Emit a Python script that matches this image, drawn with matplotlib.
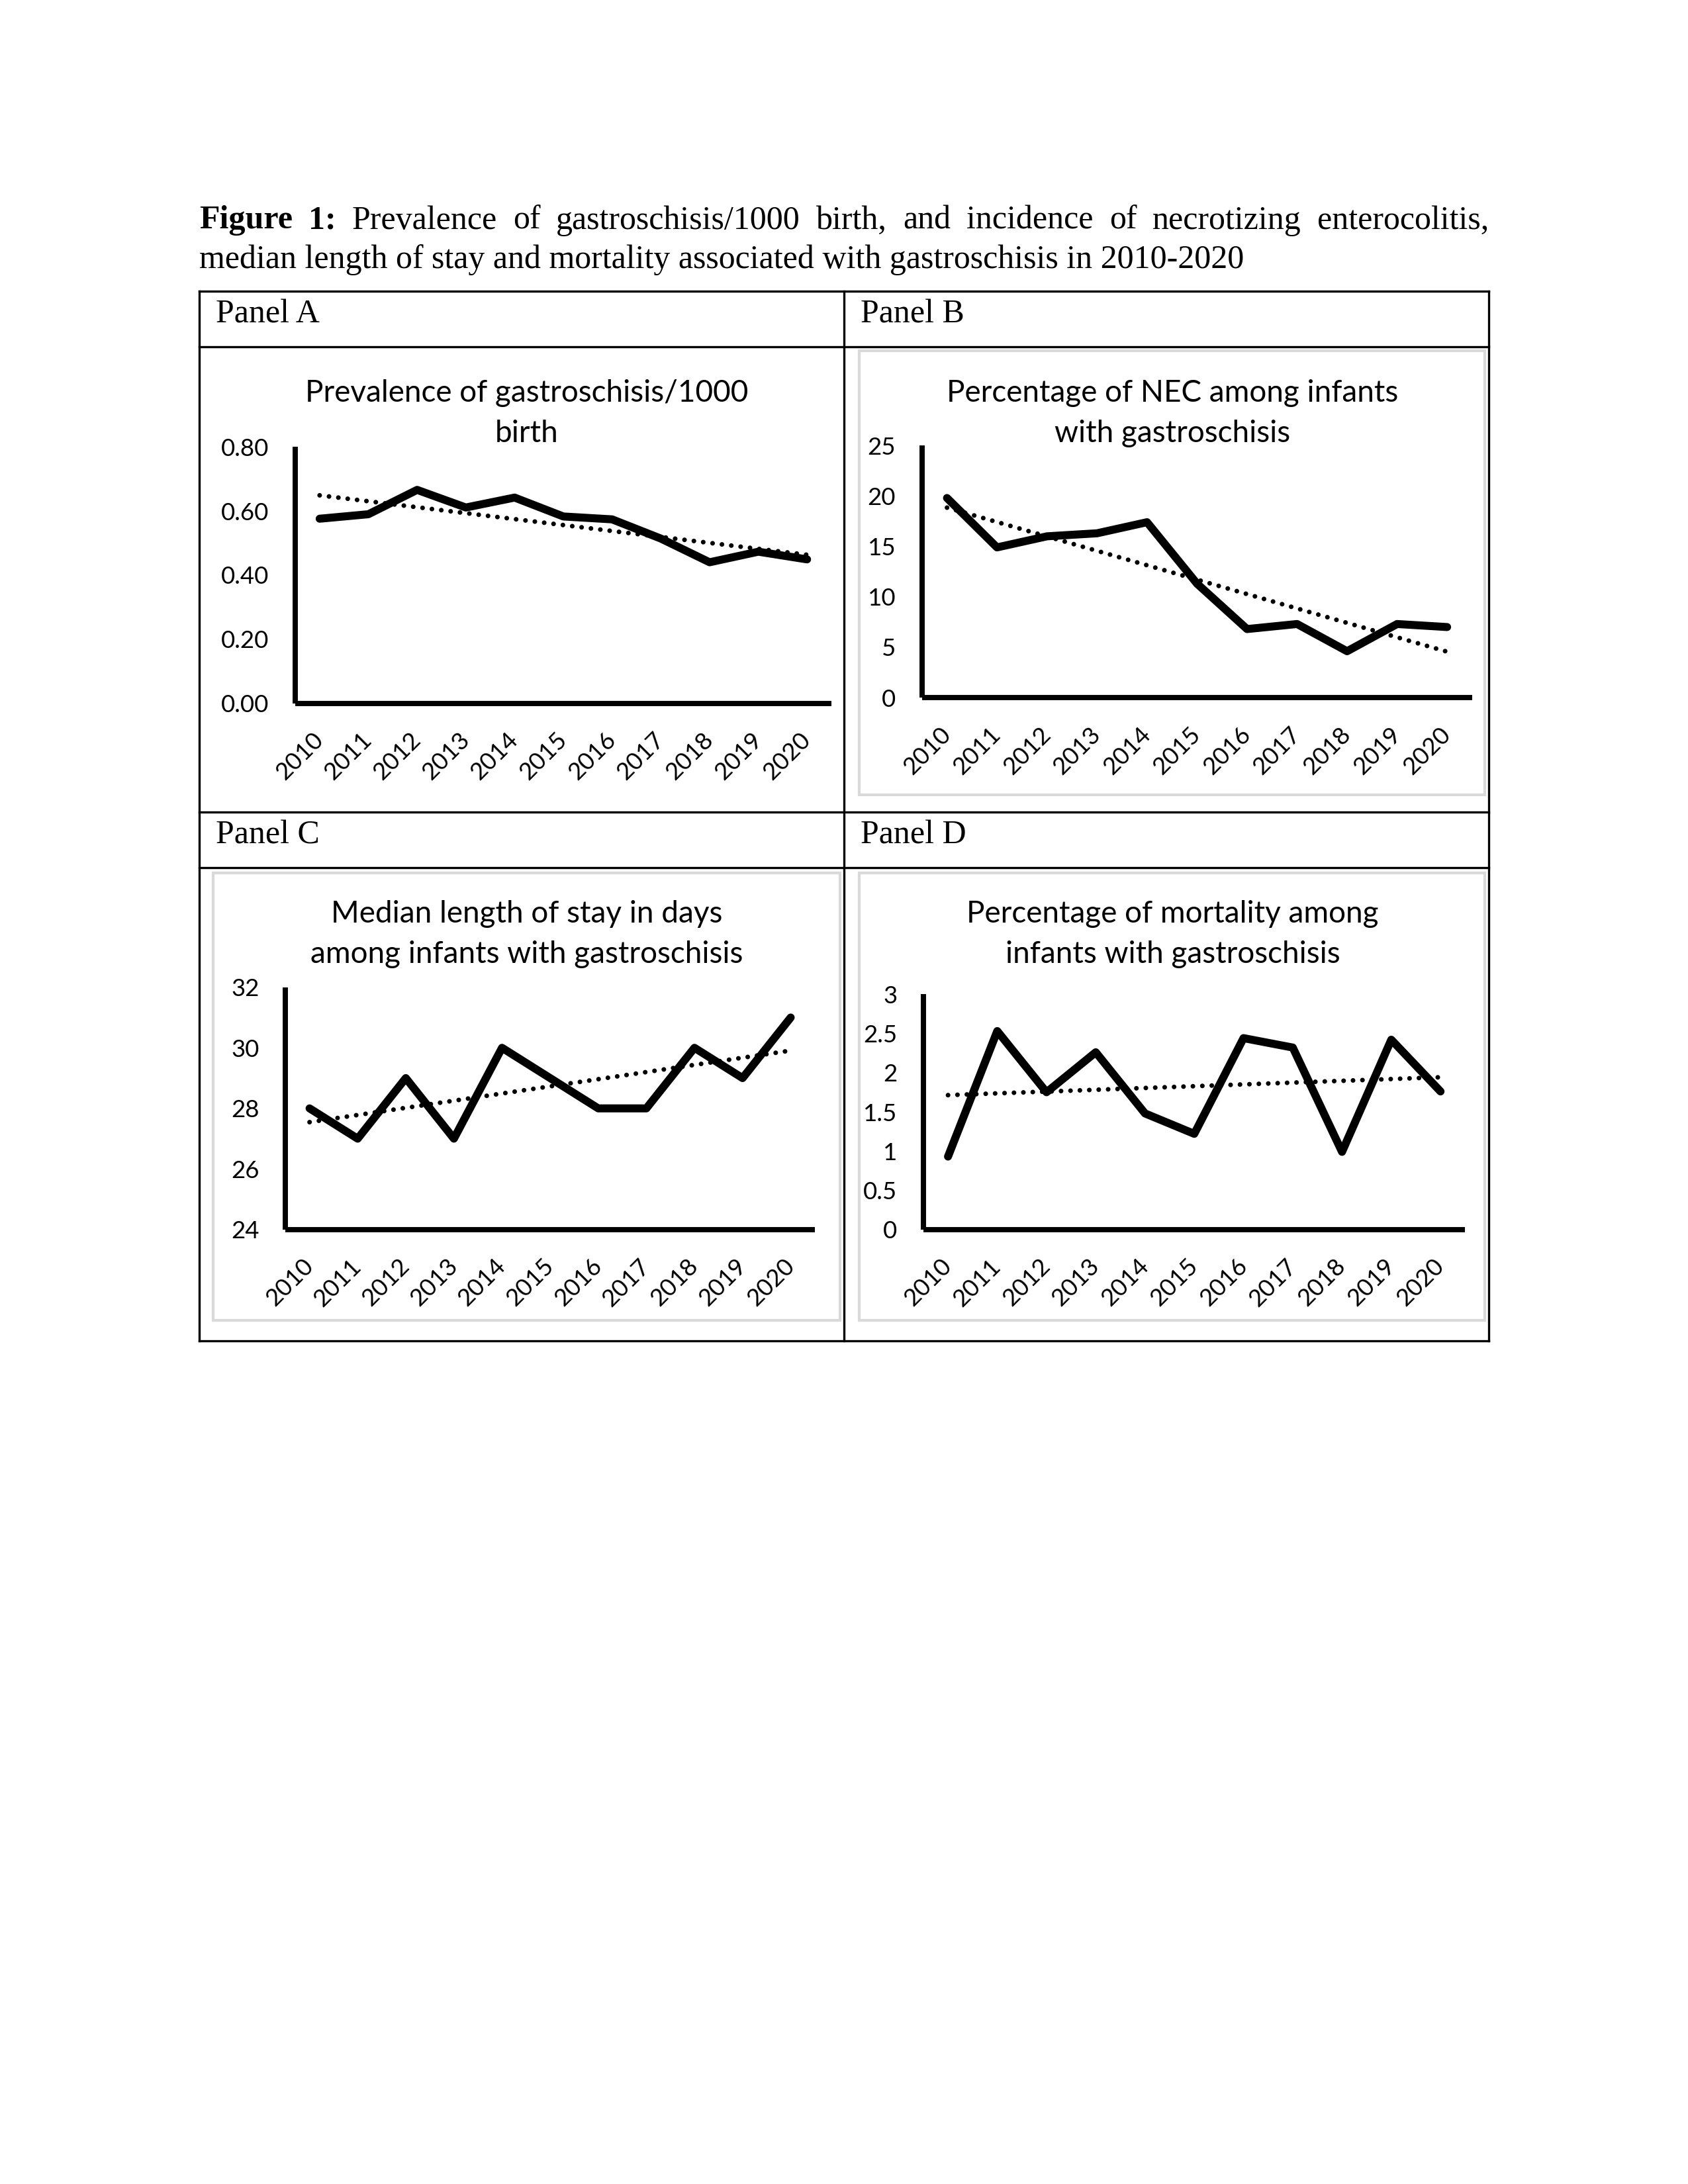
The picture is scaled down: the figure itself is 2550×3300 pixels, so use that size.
import numpy as np
import matplotlib
matplotlib.use("Agg")
import matplotlib.pyplot as plt
from matplotlib.lines import Line2D

years = ["2010", "2011", "2012", "2013", "2014", "2015", "2016", "2017", "2018", "2019", "2020"]
prevalence = [0.576, 0.590, 0.666, 0.611, 0.642, 0.583, 0.574, 0.514, 0.440, 0.473, 0.449]
nec_pct = [19.8, 14.9, 16.0, 16.3, 17.4, 11.3, 6.8, 7.3, 4.6, 7.3, 7.0]
los_median = [28, 27, 29, 27, 30, 29, 28, 28, 30, 29, 31]
mortality_pct = [0.93, 2.53, 1.75, 2.26, 1.48, 1.22, 2.44, 2.32, 0.99, 2.42, 1.76]

titles = [["Prevalence of gastroschisis/1000", "birth"],
          ["Percentage of NEC among infants", "with gastroschisis"],
          ["Median length of stay in days", "among infants with gastroschisis"],
          ["Percentage of mortality among", "infants with gastroschisis"]]
yticks_list = [[0, 0.2, 0.4, 0.6, 0.8], [0, 5, 10, 15, 20, 25], [24, 26, 28, 30, 32],
               [0, 0.5, 1, 1.5, 2, 2.5, 3]]
ytick_labels = [["0.00", "0.20", "0.40", "0.60", "0.80"], ["0", "5", "10", "15", "20", "25"],
                ["24", "26", "28", "30", "32"], ["0", "0.5", "1", "1.5", "2", "2.5", "3"]]
panel_labels = ["Panel A", "Panel B", "Panel C", "Panel D"]

W, H = 2550, 3300
S = W / 1212.0

fig = plt.figure(figsize=(8.5, 11), dpi=300)

def fx(v):
    return v * S / W

def fy(v):
    return 1 - v * S / H

SERIF = "Liberation Serif"
SANS = "Lato"

# ---- figure caption (justified first line) ----
line1 = "Figure 1: Prevalence of gastroschisis/1000 birth, and incidence of necrotizing enterocolitis,"
line2 = "median length of stay and mortality associated with gastroschisis in 2010-2020"
left, right = fx(143), fx(1069)
renderer = fig.canvas.get_renderer()
words = line1.split(" ")
texts = []
for i, w in enumerate(words):
    t = fig.text(0, fy(158.5), w, fontsize=12, family=SERIF,
                 fontweight="bold" if i < 2 else "normal", va="center", ha="left")
    texts.append(t)
widths = [t.get_window_extent(renderer).width / W for t in texts]
gap = (right - left - sum(widths)) / (len(words) - 1)
x = left
for t, wd in zip(texts, widths):
    t.set_x(x)
    x += wd + gap
fig.text(left, fy(186.5), line2, fontsize=12, family=SERIF, va="center", ha="left")

# ---- table grid ----
def hline(y, x0, x1, lw=0.8):
    fig.add_artist(Line2D([fx(x0), fx(x1)], [fy(y), fy(y)], color="black", lw=lw))

def vline(x, y0, y1, lw=0.8):
    fig.add_artist(Line2D([fx(x), fx(x)], [fy(y0), fy(y1)], color="black", lw=lw))

for y in [209, 249, 583, 623, 963]:
    hline(y, 143, 1069)
for xv in [143, 606, 1069]:
    vline(xv, 209, 963)

label_pos = [(155, 226), (618, 226), (155, 600), (618, 600)]
for (lx, ly), lab in zip(label_pos, panel_labels):
    fig.text(fx(lx), fy(ly), lab, fontsize=12, family=SERIF, va="center", ha="left")

# gray chart borders (panels B, C, D)
for (x0, x1, y0, y1) in [(617, 1066, 252, 571), (153, 603, 627, 948), (617, 1066, 627, 948)]:
    fig.add_artist(plt.Rectangle((fx(x0), fy(y1)), fx(x1) - fx(x0), fy(y0) - fy(y1),
                                 fill=False, edgecolor="#d9d9d9", lw=1.0))

# ---- charts ----
axes_rects = [(212, 597, 321, 505), (662, 1057, 320, 501), (205, 585, 709, 883), (663, 1052, 714, 883)]
title_pos = [(378, 282.5), (842, 282.5), (378, 656.5), (842, 656.5)]
series = [prevalence, nec_pct, los_median, mortality_pct]

for i in range(4):
    x0, x1, yt, yb = axes_rects[i]
    ax = fig.add_axes([fx(x0), fy(yb), fx(x1) - fx(x0), fy(yt) - fy(yb)])
    xs = np.arange(len(years))
    ys = np.array(series[i], dtype=float)
    ax.plot(xs, ys, color="black", lw=2.9, solid_joinstyle="round", solid_capstyle="round",
            zorder=3)
    coef = np.polyfit(xs, ys, 1)
    ax.plot(xs, np.polyval(coef, xs), color="black", lw=1.7, linestyle=(0, (0.01, 2.0)),
            dash_capstyle="round", zorder=2)
    ax.set_xlim(-0.5, len(years) - 0.5)
    yt_vals = yticks_list[i]
    ax.set_ylim(yt_vals[0], yt_vals[-1])
    ax.set_yticks(yt_vals)
    ax.set_yticklabels(ytick_labels[i], fontsize=8.8, family=SANS)
    ax.set_xticks(xs)
    ax.set_xticklabels(years, fontsize=8.8, family=SANS, rotation=45, ha="right",
                       va="center", rotation_mode="anchor")
    ax.tick_params(axis="both", length=0)
    ax.tick_params(axis="y", pad=9.5)
    ax.tick_params(axis="x", pad=12)
    for sp in ["top", "right"]:
        ax.spines[sp].set_visible(False)
    for sp in ["left", "bottom"]:
        ax.spines[sp].set_linewidth(1.9)
        ax.spines[sp].set_color("black")
        ax.spines[sp].set_capstyle("butt")
    ax.patch.set_alpha(0)
    for lab in ax.get_xticklabels():
        lab.set_clip_on(False)
    tx, ty = title_pos[i]
    for k, ln in enumerate(titles[i]):
        fig.text(fx(tx), fy(ty + 29 * k), ln, fontsize=11, family=SANS,
                 ha="center", va="center")

fig.savefig("out.png", dpi=300, facecolor="white")
